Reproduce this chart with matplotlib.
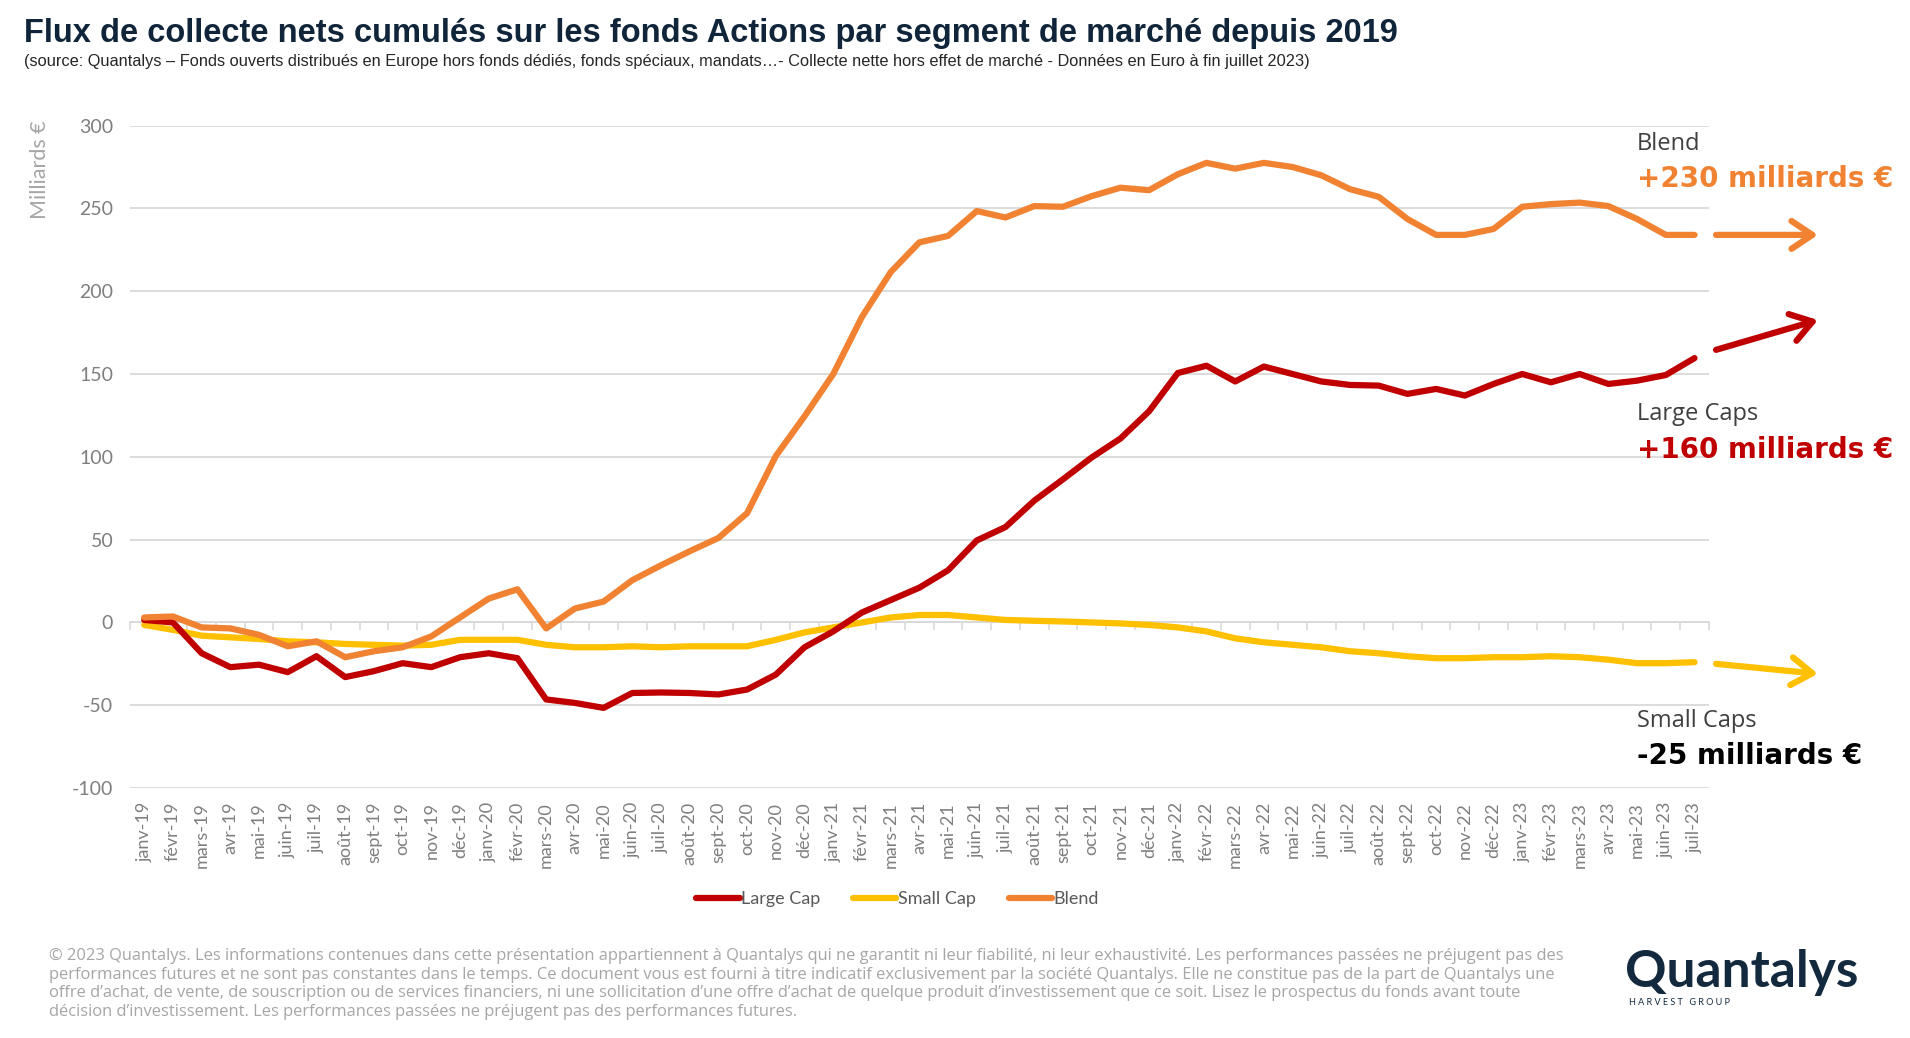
import matplotlib
matplotlib.use("Agg")
import matplotlib.pyplot as plt
import numpy as np

plt.rcParams["axes.unicode_minus"] = False

# mois (janv-19 .. juil-23)
months = ["janv", "févr", "mars", "avr", "mai", "juin",
          "juil", "août", "sept", "oct", "nov", "déc"]
labels = [f"{m}-{y}" for y in ["19", "20", "21", "22"] for m in months] + \
         [f"{m}-23" for m in months[:7]]

# collecte nette cumulée, milliards €
large_cap = [1.5, 0, -18.6, -27, -25.5, -30, -20.4, -33, -29.4, -24.6, -27, -21,
             -18.6, -21.6, -46.5, -48.6, -51.6, -42.6, -42.3, -42.6, -43.5, -40.5, -31.5, -15,
             -5.4, 6, 13.5, 21, 31.5, 49.5, 57.6, 73.5, 86.4, 99.6, 111, 127.5,
             150.6, 155, 145.5, 154.5, 150, 145.5, 143.4, 143, 138, 141, 137, 144,
             150, 145, 150, 144, 146, 149.4, 159.6]
small_cap = [-1.5, -4.5, -8, -9, -10, -11.4, -12, -13, -13.5, -14, -13.5, -10.5,
             -10.5, -10.5, -13.5, -15, -15, -14.4, -15, -14.4, -14.4, -14.4, -10.5, -6,
             -3, 0, 3, 4.5, 4.5, 3, 1.5, 1, 0.6, 0, -0.6, -1.5,
             -3, -5.4, -9.6, -12, -13.5, -15, -17.4, -18.6, -20.4, -21.6, -21.6, -21,
             -21, -20.4, -21, -22.5, -24.6, -24.6, -24]
blend = [3, 3.6, -3, -3.6, -7.5, -14.4, -11.4, -21, -17.4, -15, -8.4, 3,
         14.4, 20, -3.6, 8.4, 12.6, 25.5, 34.5, 43, 51, 66, 100.5, 124.5,
         150, 184.5, 211.5, 229.5, 233.4, 248.4, 244.5, 251.4, 251, 257.4, 262.5, 261,
         270.6, 277.5, 274, 277.5, 275, 270, 261.6, 257, 243.6, 234, 234, 237.6,
         251, 252.6, 253.5, 251.4, 243.6, 234, 234]

c_large = "#C00000"
c_small = "#FFC000"
c_blend = "#F08232"
grey = "#7F7F7F"

fig = plt.figure(figsize=(19.1, 10.38), dpi=100)
ax = fig.add_axes([0.068, 0.2408, 0.8267, 0.6382])

x = np.arange(len(labels))
ax.plot(x, large_cap, color=c_large, lw=4.5, label="Large Cap", solid_capstyle="round", zorder=3)
ax.plot(x, small_cap, color=c_small, lw=4.5, label="Small Cap", solid_capstyle="round", zorder=2)
ax.plot(x, blend, color=c_blend, lw=4.5, label="Blend", solid_capstyle="round", zorder=4)

ax.set_xlim(-0.5, len(labels) - 0.5)
ax.set_ylim(-100, 300)
ax.set_yticks(np.arange(-100, 301, 50))
ax.grid(axis="y", color="#D9D9D9", lw=1.3)
ax.set_axisbelow(True)
for s in ax.spines.values():
    s.set_visible(False)
ax.set_xticks(x)
ax.set_xticklabels(labels, rotation=90, fontsize=13, color=grey, family="Lato")
ax.tick_params(axis="x", length=0, pad=10)
ax.tick_params(axis="y", length=0, labelsize=14, labelcolor=grey, pad=12)
for t in ax.get_yticklabels():
    t.set_family("Lato")

# axe horizontal au niveau zéro avec petites graduations
sec = ax.secondary_xaxis(0.25)
sec.set_xticks(np.arange(len(labels) + 1) - 0.5)
sec.tick_params(length=6, color="#D9D9D9", width=1.2, labelbottom=False)
sec.spines["bottom"].set_color("#D9D9D9")
sec.spines["bottom"].set_linewidth(1.3)

# flèches
last = len(labels) - 1
arrows = [(blend[-1], 0, 0, c_blend),
          (large_cap[-1], 5, 23, c_large),
          (small_cap[-1], -1, -7, c_small)]
for v, d0, d1, col in arrows:
    ax.annotate("", xy=(last + 4.3, v + d1), xytext=(last + 0.75, v + d0),
                arrowprops=dict(arrowstyle="->, head_length=0.6, head_width=0.4",
                                color=col, lw=4.5, shrinkA=0, shrinkB=0,
                                mutation_scale=25, capstyle="round"),
                annotation_clip=False)

# textes à droite
notes = [("Blend", "+230 milliards €", 289, 267.6, c_blend),
         ("Large Caps", "+160 milliards €", 125.7, 104.4, c_large),
         ("Small Caps", "-25 milliards €", -59.6, -80.9, "black")]
for name, val, y1, y2, col in notes:
    ax.text(last - 2.0, y1, name, fontsize=17, color="#404040", family="Open Sans",
            va="center", ha="left", clip_on=False)
    ax.text(last - 2.0, y2, val, fontsize=20, color=col, family="DejaVu Sans",
            fontweight="bold", va="center", ha="left", clip_on=False)

fig.text(0.021, 0.884, "Milliards €", rotation=90, fontsize=15.5, color="#A6A6A6",
         family="Lato", va="top", ha="center")

leg = ax.legend(loc="center", bbox_to_anchor=(0.47, 0.134), bbox_transform=fig.transFigure,
                ncol=3, frameon=False, handlelength=2.4, handletextpad=0.1,
                columnspacing=1.8, prop=dict(family="Lato", size=13))
for t in leg.get_texts():
    t.set_color("#595959")

fig.text(0.0126, 0.968, "Flux de collecte nets cumulés sur les fonds Actions par segment de marché depuis 2019",
         fontsize=23.5, fontweight="bold", color="#10253A", family="Liberation Sans",
         va="center", ha="left")
fig.text(0.0126, 0.941, "(source: Quantalys – Fonds ouverts distribués en Europe hors fonds dédiés, fonds spéciaux, "
         "mandats…- Collecte nette hors effet de marché - Données en Euro à fin juillet 2023)",
         fontsize=11.8, color="#262626", family="Liberation Sans", va="center", ha="left")

footer = ("© 2023 Quantalys. Les informations contenues dans cette présentation appartiennent à Quantalys qui ne garantit ni leur fiabilité, ni leur exhaustivité. Les performances passées ne préjugent pas des\n"
          "performances futures et ne sont pas constantes dans le temps. Ce document vous est fourni à titre indicatif exclusivement par la société Quantalys. Elle ne constitue pas de la part de Quantalys une\n"
          "offre d’achat, de vente, de souscription ou de services financiers, ni une sollicitation d’une offre d’achat de quelque produit d’investissement que ce soit. Lisez le prospectus du fonds avant toute\n"
          "décision d’investissement. Les performances passées ne préjugent pas des performances futures.")
fig.text(0.0257, 0.052, footer, fontsize=11.9, color="#A6A6A6", family="Open Sans",
         va="center", ha="left", linespacing=1.2)

fig.text(0.851, 0.063, "Quantalys", fontsize=37, fontweight="bold", color="#13293D",
         family="Lato", va="center", ha="left")
fig.text(0.853, 0.034, "H A R V E S T   G R O U P", fontsize=6.5, color="#13293D",
         family="Lato", va="center", ha="left")

fig.savefig("out.png", dpi=100)
